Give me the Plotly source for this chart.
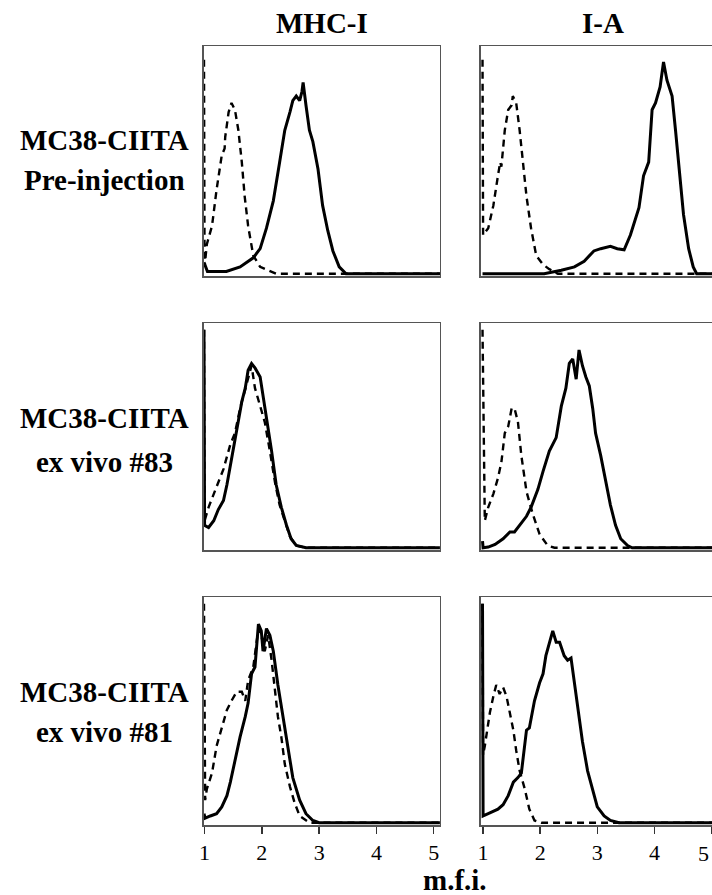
import plotly.graph_objects as go

# ---------------- data (normalised histogram heights, x = m.f.i. decades) ----------------
columns = ["MHC-I", "I-A"]
row_labels = [("MC38-CIITA", "Pre-injection"),
              ("MC38-CIITA", "ex vivo #83"),
              ("MC38-CIITA", "ex vivo #81")]
tick_vals = [1, 2, 3, 4, 5]
tick_text = ["1", "2", "3", "4", "5"]

# Row 1: pre-injection
mhc_pre_iso_x = [0.99, 1.0, 1.04, 1.13, 1.21, 1.30, 1.35, 1.36, 1.42, 1.47, 1.53, 1.59, 1.65, 1.70, 1.76, 1.85, 1.97, 2.25, 5.2]
mhc_pre_iso_y = [0.94, 0.03, 0.13, 0.21, 0.37, 0.52, 0.55, 0.60, 0.71, 0.75, 0.72, 0.63, 0.49, 0.34, 0.21, 0.08, 0.03, 0.0, 0.0]
mhc_pre_ab_x = [0.99, 1.05, 1.38, 1.62, 1.85, 1.97, 2.08, 2.20, 2.31, 2.40, 2.49, 2.54, 2.60, 2.66, 2.70, 2.72, 2.77, 2.83, 2.89, 2.98, 3.06, 3.15, 3.24, 3.35, 3.47, 5.2]
mhc_pre_ab_y = [0.05, 0.01, 0.01, 0.03, 0.07, 0.11, 0.20, 0.32, 0.49, 0.63, 0.71, 0.76, 0.78, 0.76, 0.80, 0.84, 0.74, 0.63, 0.58, 0.46, 0.30, 0.19, 0.10, 0.03, 0.0, 0.0]

ia_pre_iso_x = [0.99, 1.0, 1.09, 1.18, 1.26, 1.30, 1.32, 1.38, 1.44, 1.50, 1.52, 1.58, 1.64, 1.70, 1.76, 1.84, 1.93, 2.05, 2.16, 2.31, 5.2]
ia_pre_iso_y = [0.94, 0.17, 0.20, 0.30, 0.43, 0.49, 0.47, 0.63, 0.72, 0.74, 0.78, 0.75, 0.63, 0.49, 0.34, 0.20, 0.08, 0.04, 0.02, 0.0, 0.0]
ia_pre_ab_x = [0.99, 2.07, 2.37, 2.60, 2.77, 2.94, 3.06, 3.23, 3.35, 3.47, 3.58, 3.73, 3.81, 3.90, 3.96, 4.02, 4.10, 4.16, 4.22, 4.31, 4.37, 4.45, 4.51, 4.60, 4.68, 4.74, 5.2]
ia_pre_ab_y = [0.0, 0.0, 0.015, 0.03, 0.055, 0.10, 0.11, 0.12, 0.11, 0.105, 0.17, 0.29, 0.43, 0.49, 0.72, 0.75, 0.82, 0.93, 0.85, 0.78, 0.63, 0.42, 0.26, 0.11, 0.03, 0.0, 0.0]

# Row 2: ex vivo #83
mhc_83_iso_x = [0.99, 1.0, 1.07, 1.19, 1.33, 1.45, 1.53, 1.62, 1.73, 1.82, 1.88, 1.97, 2.05, 2.14, 2.23, 2.31, 2.40, 2.49, 2.60, 2.77, 5.2]
mhc_83_iso_y = [0.97, 0.12, 0.18, 0.26, 0.35, 0.46, 0.51, 0.62, 0.72, 0.81, 0.71, 0.63, 0.56, 0.43, 0.29, 0.19, 0.12, 0.05, 0.01, 0.0, 0.0]
mhc_83_ab_x = [0.99, 1.0, 1.07, 1.16, 1.24, 1.33, 1.39, 1.45, 1.53, 1.59, 1.65, 1.71, 1.76, 1.82, 1.88, 1.97, 2.02, 2.08, 2.17, 2.25, 2.34, 2.43, 2.51, 2.60, 2.77, 5.2]
mhc_83_ab_y = [0.97, 0.10, 0.09, 0.12, 0.17, 0.21, 0.28, 0.37, 0.47, 0.57, 0.65, 0.71, 0.79, 0.82, 0.80, 0.76, 0.68, 0.59, 0.43, 0.28, 0.18, 0.10, 0.04, 0.01, 0.0, 0.0]

ia_83_iso_x = [0.99, 1.03, 1.09, 1.18, 1.26, 1.32, 1.38, 1.44, 1.50, 1.55, 1.61, 1.67, 1.76, 1.87, 1.99, 2.13, 2.25, 5.2]
ia_83_iso_y = [0.97, 0.12, 0.18, 0.24, 0.31, 0.38, 0.51, 0.54, 0.62, 0.62, 0.56, 0.41, 0.25, 0.15, 0.06, 0.01, 0.0, 0.0]
ia_83_ab_x = [0.99, 1.0, 1.09, 1.21, 1.35, 1.47, 1.55, 1.64, 1.76, 1.84, 1.96, 2.05, 2.16, 2.28, 2.37, 2.45, 2.51, 2.57, 2.63, 2.68, 2.74, 2.80, 2.86, 2.92, 2.97, 3.06, 3.15, 3.23, 3.32, 3.41, 3.53, 3.61, 5.2]
ia_83_ab_y = [0.03, 0.0, 0.003, 0.015, 0.04, 0.07, 0.07, 0.10, 0.14, 0.18, 0.26, 0.34, 0.43, 0.49, 0.63, 0.71, 0.82, 0.84, 0.75, 0.88, 0.81, 0.76, 0.72, 0.62, 0.51, 0.41, 0.29, 0.19, 0.10, 0.04, 0.01, 0.0, 0.0]

# Row 3: ex vivo #81
mhc_81_iso_x = [0.99, 1.01, 1.04, 1.13, 1.21, 1.30, 1.39, 1.47, 1.56, 1.65, 1.71, 1.76, 1.85, 1.94, 1.99, 2.05, 2.11, 2.17, 2.23, 2.28, 2.34, 2.40, 2.49, 2.57, 2.66, 2.77, 2.83, 5.2]
mhc_81_iso_y = [0.97, 0.10, 0.15, 0.22, 0.34, 0.42, 0.50, 0.54, 0.58, 0.58, 0.54, 0.63, 0.69, 0.86, 0.83, 0.76, 0.83, 0.72, 0.57, 0.47, 0.38, 0.26, 0.16, 0.09, 0.03, 0.01, 0.0, 0.0]
mhc_81_ab_x = [0.99, 1.01, 1.10, 1.21, 1.30, 1.39, 1.45, 1.53, 1.62, 1.71, 1.76, 1.82, 1.88, 1.94, 1.99, 2.02, 2.08, 2.14, 2.20, 2.28, 2.37, 2.46, 2.54, 2.66, 2.77, 2.89, 3.00, 5.2]
mhc_81_ab_y = [0.04, 0.02, 0.03, 0.04, 0.07, 0.12, 0.18, 0.28, 0.38, 0.47, 0.53, 0.66, 0.69, 0.88, 0.85, 0.76, 0.86, 0.83, 0.76, 0.61, 0.47, 0.32, 0.20, 0.10, 0.04, 0.01, 0.0, 0.0]

ia_81_iso_x = [0.99, 1.0, 1.03, 1.09, 1.12, 1.18, 1.23, 1.29, 1.35, 1.41, 1.47, 1.53, 1.58, 1.64, 1.73, 1.81, 1.90, 2.02, 5.2]
ia_81_iso_y = [0.97, 0.30, 0.34, 0.44, 0.49, 0.56, 0.61, 0.57, 0.60, 0.56, 0.49, 0.41, 0.32, 0.23, 0.15, 0.06, 0.01, 0.0, 0.0]
ia_81_ab_x = [0.99, 1.0, 1.09, 1.18, 1.26, 1.35, 1.44, 1.53, 1.61, 1.67, 1.70, 1.76, 1.81, 1.90, 1.99, 2.05, 2.10, 2.16, 2.22, 2.28, 2.34, 2.42, 2.48, 2.54, 2.60, 2.66, 2.74, 2.83, 2.92, 3.00, 3.12, 3.23, 3.38, 5.2]
ia_81_ab_y = [0.97, 0.03, 0.04, 0.05, 0.06, 0.08, 0.12, 0.18, 0.20, 0.22, 0.29, 0.41, 0.42, 0.54, 0.62, 0.66, 0.74, 0.80, 0.85, 0.80, 0.80, 0.74, 0.72, 0.73, 0.62, 0.50, 0.36, 0.23, 0.15, 0.07, 0.03, 0.01, 0.0, 0.0]

panels = [
    [(mhc_pre_iso_x, mhc_pre_iso_y, mhc_pre_ab_x, mhc_pre_ab_y),
     (ia_pre_iso_x, ia_pre_iso_y, ia_pre_ab_x, ia_pre_ab_y)],
    [(mhc_83_iso_x, mhc_83_iso_y, mhc_83_ab_x, mhc_83_ab_y),
     (ia_83_iso_x, ia_83_iso_y, ia_83_ab_x, ia_83_ab_y)],
    [(mhc_81_iso_x, mhc_81_iso_y, mhc_81_ab_x, mhc_81_ab_y),
     (ia_81_iso_x, ia_81_iso_y, ia_81_ab_x, ia_81_ab_y)],
]

# ---------------- layout geometry ----------------
W, H = 712, 895
col_px = [(200, 438), (479, 712)]
col_range = [[0.983, 5.108], [0.957, 5.009]]
row_px = [(46, 276), (323, 550), (597, 825)]
FONT = "Liberation Serif, Times New Roman, serif"

fig = go.Figure()
layout = dict(width=W, height=H, margin=dict(l=0, r=0, t=0, b=0),
              paper_bgcolor="white", plot_bgcolor="white", showlegend=False,
              font=dict(family=FONT, color="black"))

annotations = []
k = 0
for r in range(3):
    for c in range(2):
        k += 1
        xa = "xaxis" if k == 1 else f"xaxis{k}"
        ya = "yaxis" if k == 1 else f"yaxis{k}"
        xref = "x" if k == 1 else f"x{k}"
        yref = "y" if k == 1 else f"y{k}"
        ix, iy, ax_, ay_ = panels[r][c]
        fig.add_trace(go.Scatter(x=ix, y=iy, mode="lines", xaxis=xref, yaxis=yref,
                                 line=dict(color="black", width=2.4, dash="7px,5px")))
        fig.add_trace(go.Scatter(x=ax_, y=ay_, mode="lines", xaxis=xref, yaxis=yref,
                                 line=dict(color="black", width=3)))
        y0, y1 = row_px[r]
        x0, x1 = col_px[c]
        bottom = (r == 2)
        # the last tick label of the right column sits on the page edge: draw it as text
        txt = tick_text if c == 0 else tick_text[:-1] + [""]
        layout[xa] = dict(domain=[x0 / W, x1 / W], range=col_range[c], anchor=yref,
                          showgrid=False, zeroline=False, showline=True, mirror=True,
                          linecolor="#555", linewidth=1.5,
                          tickvals=tick_vals, ticktext=txt,
                          ticks="outside" if bottom else "", ticklen=7, tickwidth=1.5,
                          tickcolor="#333", showticklabels=bottom,
                          tickfont=dict(family=FONT, size=22, color="black"))
        layout[ya] = dict(domain=[1 - y1 / H, 1 - y0 / H], range=[-0.01, 1.0], anchor=xref,
                          showgrid=False, zeroline=False, showline=True,
                          mirror=(c == 0), linecolor="#555", linewidth=1.5,
                          showticklabels=False, ticks="")
        if bottom and c == 1:
            annotations.append(dict(text=tick_text[-1], x=tick_vals[-1], xref=xref,
                                    y=1 - 853 / H, yref="paper", xanchor="right", yanchor="middle",
                                    showarrow=False, font=dict(family=FONT, size=22, color="black")))

for c, name in enumerate(columns):
    cx = (col_px[c][0] + col_px[c][1]) / 2 if c == 0 else 602
    annotations.append(dict(text=f"<b>{name}</b>", x=cx / W, y=1 - 23 / H, xref="paper", yref="paper",
                            xanchor="center", yanchor="middle", showarrow=False,
                            font=dict(family=FONT, size=29, color="black")))
line_centers = [(140, 180), (418, 462), (692, 732)]
for r, (l1, l2) in enumerate(row_labels):
    for txt, yc in zip((l1, l2), line_centers[r]):
        annotations.append(dict(text=f"<b>{txt}</b>", x=100 / W, y=1 - yc / H, xref="paper", yref="paper",
                                xanchor="center", yanchor="middle", showarrow=False,
                                font=dict(family=FONT, size=29, color="black")))
annotations.append(dict(text="<b>m.f.i.</b>", x=453 / W, y=1 - 880 / H, xref="paper", yref="paper",
                        xanchor="center", yanchor="middle", showarrow=False,
                        font=dict(family=FONT, size=29, color="black")))
layout["annotations"] = annotations

fig.update_layout(**layout)
fig.write_html("out.html", config={"displayModeBar": False, "staticPlot": True},
               post_script="document.body.style.margin='0';document.body.style.overflow='hidden';")
